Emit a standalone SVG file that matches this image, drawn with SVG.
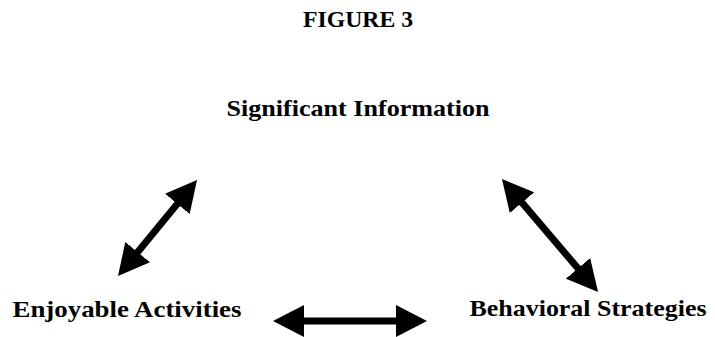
<svg xmlns="http://www.w3.org/2000/svg" width="715" height="337" viewBox="0 0 715 337">
  <style>
    .t { font-family: "Liberation Serif", "Times New Roman", serif; font-weight: bold; font-size: 23px; fill: #000; }
    .c { stroke: #000; stroke-width: 7; fill: none; marker-start: url(#head); marker-end: url(#head); }
  </style>
  <defs>
    <marker id="head" markerUnits="userSpaceOnUse" markerWidth="32" markerHeight="32" refX="11" refY="16" orient="auto-start-reverse" viewBox="0 0 32 32">
      <path d="M0,0 L31,16 L0,32 Z" fill="#000"/>
    </marker>
  </defs>
  <rect width="715" height="337" fill="#fff"/>
  <g id="title">
    <text class="t" x="358" y="27" text-anchor="middle" textLength="110" lengthAdjust="spacingAndGlyphs">FIGURE 3</text>
  </g>
  <g id="significant-information">
    <text class="t" x="358" y="116" text-anchor="middle" textLength="263" lengthAdjust="spacingAndGlyphs">Significant Information</text>
  </g>
  <g id="enjoyable-activities">
    <text class="t" x="127" y="317" text-anchor="middle" textLength="229" lengthAdjust="spacingAndGlyphs">Enjoyable Activities</text>
  </g>
  <g id="behavioral-strategies">
    <text class="t" x="588" y="316" text-anchor="middle" textLength="237" lengthAdjust="spacingAndGlyphs">Behavioral Strategies</text>
  </g>
  <g id="connectors">
    <line class="c" x1="130.7" y1="260.6" x2="184.3" y2="195.4"/>
    <line class="c" x1="514.9" y1="194.2" x2="585.1" y2="276.8"/>
    <line class="c" x1="293" y1="321" x2="407" y2="321"/>
  </g>
</svg>
